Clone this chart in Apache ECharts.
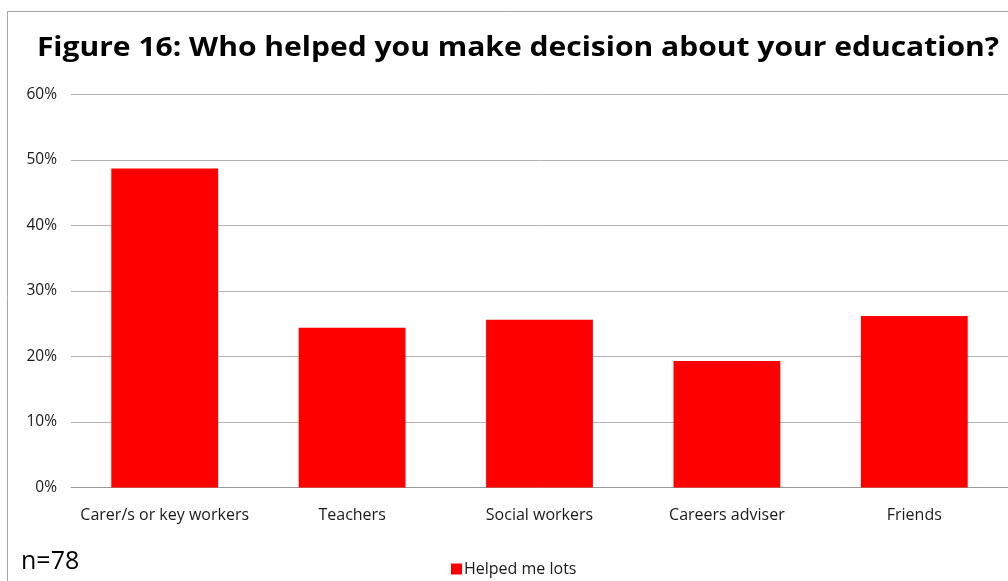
<!DOCTYPE html>
<html>
<head>
<meta charset="utf-8">
<script src="https://cdn.jsdelivr.net/npm/echarts@6/dist/echarts.min.js"></script>
<style>
  html, body { margin: 0; padding: 0; background: #fff; }
  #chart { width: 1008px; height: 581px; }
</style>
</head>
<body>
<div id="chart"></div>
<script>
// Who helped respondents decide about their education (share saying "helped me lots")
const categories = ['Carer/s or key workers', 'Teachers', 'Social workers', 'Careers adviser', 'Friends'];
const helpedMeLots = [0.487, 0.244, 0.256, 0.193, 0.262];
const seriesName = 'Helped me lots';
const titleText = 'Figure 16: Who helped you make decision about your education?';
const sampleNote = 'n=78';

const chart = echarts.init(document.getElementById('chart'), null, { renderer: 'canvas' });

chart.setOption({
  animation: false,
  backgroundColor: '#ffffff',
  textStyle: { fontFamily: '"Open Sans", sans-serif' },
  grid: { left: 71, right: 0, top: 94.5, bottom: 93.5, containLabel: false },
  legend: {
    data: [seriesName],
    left: 451,
    top: 561,
    padding: 0,
    itemWidth: 11,
    itemHeight: 11,
    itemGap: 4,
    icon: 'rect',
    textStyle: { fontSize: 16, color: '#1a1a1a', fontFamily: '"Open Sans", sans-serif', padding: [0, 0, 0, -3] }
  },
  xAxis: {
    type: 'category',
    data: categories,
    axisLine: { show: true, lineStyle: { color: '#999999', width: 1 } },
    axisTick: { show: false },
    axisLabel: { interval: 0, margin: 20, fontSize: 16, color: '#1a1a1a', fontFamily: '"Open Sans", sans-serif' }
  },
  yAxis: {
    type: 'value',
    min: 0,
    max: 0.6,
    interval: 0.1,
    axisLine: { show: false },
    axisTick: { show: false },
    splitLine: { lineStyle: { color: '#b4b4b4', width: 1 } },
    axisLabel: {
      margin: 14,
      fontSize: 15.5,
      color: '#1a1a1a',
      fontFamily: '"Open Sans", sans-serif',
      formatter: v => Math.round(v * 100) + '%'
    }
  },
  series: [{
    name: seriesName,
    type: 'bar',
    data: helpedMeLots,
    barCategoryGap: '43%',
    itemStyle: { color: '#ff0000' }
  }],
  graphic: [
    {
      type: 'rect',
      silent: true,
      shape: { x: 7.5, y: 11.5, width: 1020, height: 600 },
      style: { fill: null, stroke: '#a6a6a6', lineWidth: 1 }
    },
    {
      // wide bold heading, stretched horizontally to span the chart frame
      type: 'text',
      x: 518,
      y: 49,
      scaleX: 1.155,
      style: {
        text: titleText,
        fontSize: 26,
        fontWeight: 'bold',
        fontFamily: '"Open Sans", sans-serif',
        fill: '#000000',
        textAlign: 'center',
        textVerticalAlign: 'middle'
      }
    },
    {
      type: 'text',
      x: 21,
      y: 562,
      style: {
        text: sampleNote,
        fontSize: 25,
        fontFamily: '"Open Sans", sans-serif',
        fill: '#000000',
        textAlign: 'left',
        textVerticalAlign: 'middle'
      }
    }
  ]
});
</script>
</body>
</html>
